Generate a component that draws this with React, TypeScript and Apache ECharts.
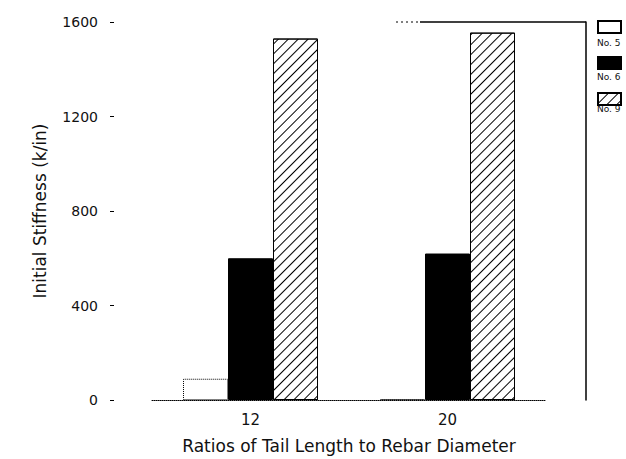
import React, { useEffect, useRef } from "react";
import * as echarts from "echarts";

const categories = ["12", "20"];
const seriesNames = ["No. 5", "No. 6", "No. 9"];
const no5 = [90, 4];
const no6 = [600, 620];
const no9 = [1530, 1555];
const yMin = 0;
const yMax = 1600;
const yInterval = 400;

const FONT = "DejaVu Sans";
const INK = "#111";

export default function App() {
  const ref = useRef<HTMLDivElement>(null);
  useEffect(() => {
    if (!ref.current) return;
    const chart = echarts.init(ref.current, undefined, { renderer: "svg" });
    const hatch = {
      symbol: "rect",
      symbolSize: 1,
      dashArrayX: [[1, 0]],
      dashArrayY: [1, 5.5],
      rotation: -Math.PI / 4,
      color: "#000",
      backgroundColor: "#fff",
    };
    chart.setOption({
      animation: false,
      backgroundColor: "#fff",
      textStyle: { fontFamily: FONT, color: INK },
      grid: { left: 152, right: 80, top: 22, bottom: 52 },
      legend: {
        orient: "vertical",
        left: 597,
        top: 20,
        padding: 0,
        itemWidth: 23,
        itemHeight: 12,
        itemGap: 22,
        icon: "rect",
        formatter: () => "",
        data: seriesNames,
        selectedMode: false,
      },
      xAxis: {
        type: "category",
        data: categories,
        axisLine: { show: true, lineStyle: { color: "#000", type: "dotted", width: 1 } },
        axisTick: { show: false },
        axisLabel: { fontSize: 15, color: INK, margin: 12, fontFamily: FONT },
        name: "Ratios of Tail Length to Rebar Diameter",
        nameLocation: "middle",
        nameGap: 37,
        nameTextStyle: { fontSize: 17, color: INK, fontFamily: FONT },
      },
      yAxis: [
        {
          type: "value",
          min: yMin,
          max: yMax,
          interval: yInterval,
          offset: 38,
          axisLine: { show: false },
          axisTick: { show: true, length: 4, lineStyle: { color: "#000" } },
          splitLine: { show: false },
          axisLabel: {
            fontSize: 14,
            color: INK,
            margin: 16,
            fontFamily: FONT,
            formatter: (v: number) => String(v),
          },
          name: "Initial Stiffness (k/in)",
          nameLocation: "middle",
          nameGap: 66,
          nameTextStyle: { fontSize: 17, color: INK, fontFamily: FONT },
        },
        {
          type: "value",
          min: yMin,
          max: yMax,
          interval: yInterval,
          position: "right",
          offset: 40,
          axisLine: { show: true, lineStyle: { color: "#000", width: 1.5 } },
          axisTick: { show: false },
          axisLabel: { show: false },
          splitLine: { show: false },
        },
      ],
      graphic: [
        {
          type: "line",
          shape: { x1: 396, y1: 22, x2: 420, y2: 22 },
          style: { stroke: "#000", lineWidth: 1, lineDash: [2, 3] },
        },
        {
          type: "line",
          shape: { x1: 420, y1: 22, x2: 586, y2: 22 },
          style: { stroke: "#000", lineWidth: 1.5 },
        },
        { type: "text", x: 597, y: 38, style: { text: "No. 5", fontSize: 9, fontFamily: FONT, fill: INK } },
        { type: "text", x: 597, y: 72, style: { text: "No. 6", fontSize: 9, fontFamily: FONT, fill: INK } },
        { type: "text", x: 597, y: 104, style: { text: "No. 9", fontSize: 9, fontFamily: FONT, fill: INK } },
      ],
      series: [
        {
          name: seriesNames[0],
          type: "bar",
          data: no5,
          barWidth: 45,
          barGap: "0%",
          itemStyle: { color: "#fff", borderColor: "#000", borderWidth: 1, borderType: "dotted" },
        },
        {
          name: seriesNames[1],
          type: "bar",
          data: no6,
          barWidth: 45,
          barGap: "0%",
          itemStyle: { color: "#000", borderColor: "#000", borderWidth: 1 },
        },
        {
          name: seriesNames[2],
          type: "bar",
          data: no9,
          barWidth: 45,
          barGap: "0%",
          itemStyle: { color: "#fff", decal: hatch, borderColor: "#000", borderWidth: 1 },
        },
      ],
    });
    return () => chart.dispose();
  }, []);
  return (
    <div
      ref={ref}
      style={{ position: "fixed", left: 0, top: 0, width: 626, height: 459 }}
    />
  );
}
